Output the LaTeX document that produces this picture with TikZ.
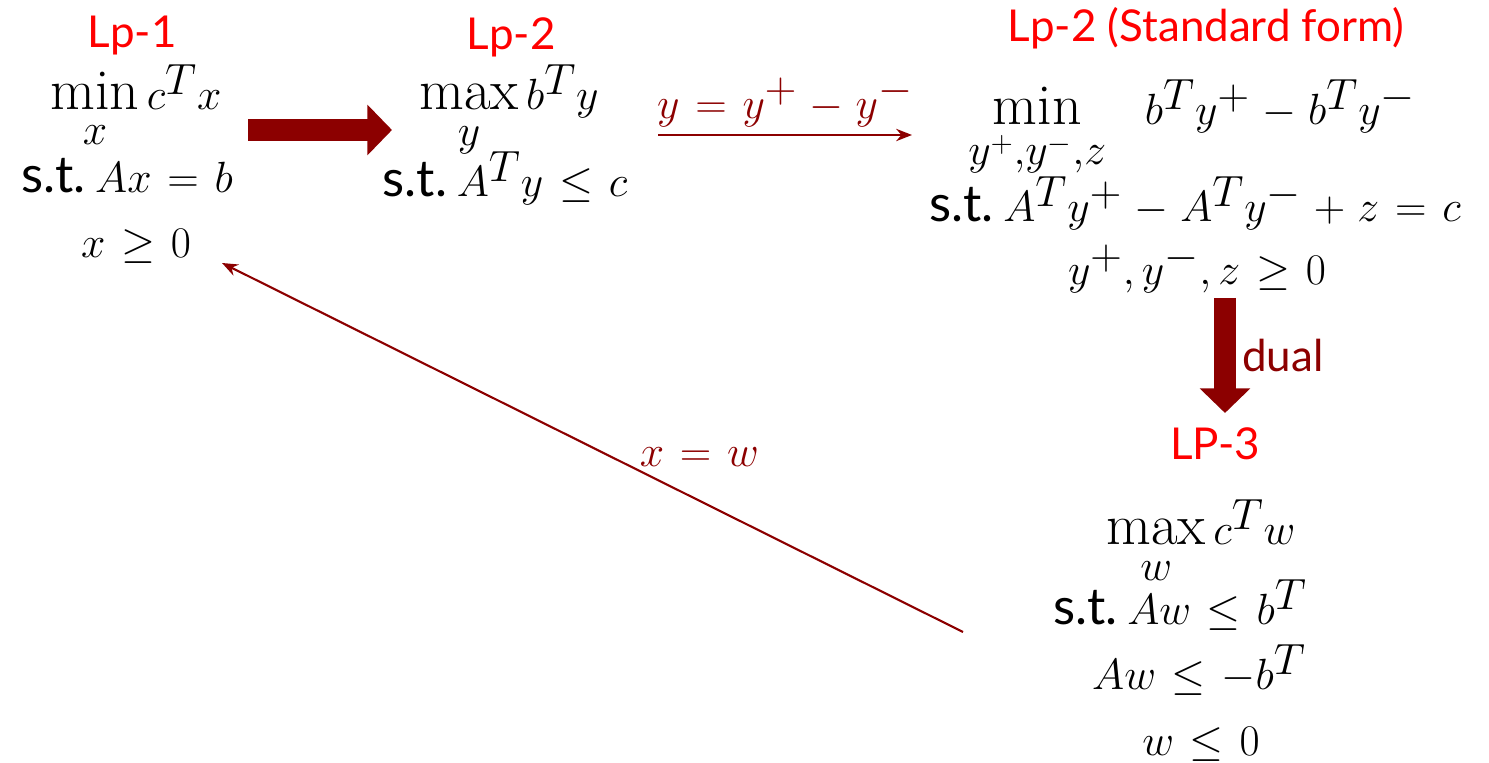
\documentclass[tikz,border=0pt]{standalone}
\usepackage{amsmath,amssymb}
\usepackage{fontspec}
\newfontfamily\gillfont{Lato}
\usetikzlibrary{arrows.meta,positioning}
\definecolor{lpred}{RGB}{255,0,0}
\definecolor{dualred}{RGB}{140,0,0}
\newcommand{\widespacing}{\thickmuskip=6.5mu\relax\medmuskip=5mu\relax}

\begin{document}
\begin{tikzpicture}[
    x=0.02cm, y=-0.02cm,
    title/.style={font=\fontsize{25}{28}\selectfont\gillfont, text=lpred,
                  inner sep=0pt, anchor=base},
    eq/.style={font=\fontsize{33}{36}\selectfont\widespacing,
               inner sep=0pt, anchor=base},
    bigarrow/.style={-{Triangle[length=14pt, width=28pt]}, line width=13pt, dualred},
    thinarrow/.style={-{Stealth[length=9pt, width=7pt]}, line width=1.2pt, dualred},
]
    \useasboundingbox (0,0) rectangle (1489,763);
    \newcommand{\st}{{\gillfont\fontsize{29}{34}\selectfont s.t.}\,}

    % Lp-1
    \node[title] (lpone) at (132,48) {Lp-1};
    \node[eq] (lponeobj) at (136,110) {$\min\limits_{x} c^Tx$};
    \node[eq] (lponecon) at (127,193) {\st$Ax = b$};
    \node[eq] (lponepos) at (136,258) {$x \ge 0$};

    % Lp-2
    \node[title] (lptwo) at (511,50) {Lp-2};
    \node[eq] (lptwoobj) at (509,110) {$\max\limits_{y} b^Ty$};
    \node[eq] (lptwocon) at (505,197) {\st$A^Ty \le c$};

    % Lp-2 (Standard form)
    \node[title] (lpstd) at (1206,42) {Lp-2 (Standard form)};
    \node[eq] (lpstdobj) at (1192,125) {$\min\limits_{y^+,y^-,z}\;\; b^Ty^+ - b^Ty^-$};
    \node[eq] (lpstdcon) at (1195,222) {\st$A^Ty^+ - A^Ty^- + z = c$};
    \node[eq] (lpstdpos) at (1197,285) {$y^+,y^-,z \ge 0$};

    % LP-3
    \node[title] (lpthree) at (1215,460) {LP-3};
    \node[eq] (lpthreeobj) at (1201,545) {$\max\limits_{w} c^Tw$};
    \node[eq] (lpthreeconA) at (1180,625) {\st$Aw \le b^T$};
    \node[eq] (lpthreeconB) at (1199,690) {$Aw \le -b^T$};
    \node[eq] (lpthreepos) at (1201,755) {$w \le 0$};

    % Arrow ends
    \coordinate (toLptwoA) at (248,130);
    \coordinate (toLptwoB) at (392,130);
    \coordinate (toStdA) at (658,135);
    \coordinate (toStdB) at (912,135);
    \coordinate (dualA) at (1225,298);
    \coordinate (dualB) at (1225,413);
    \coordinate (backA) at (963,632);
    \coordinate (backB) at (222,263);

    % Arrows
    \draw[bigarrow] (toLptwoA) -- (toLptwoB);
    \draw[thinarrow] (toStdA) -- (toStdB)
        node[midway, eq, above=4pt, anchor=south, text=dualred] {$y = y^+ - y^-$};
    \draw[bigarrow] (dualA) -- (dualB)
        node[midway, right=0pt, font=\fontsize{25}{28}\selectfont\gillfont, text=dualred] {dual};
    \draw[thinarrow] (backA) -- (backB)
        node[pos=0.44, eq, anchor=south west, inner sep=1pt, text=dualred] {$x = w$};
\end{tikzpicture}
\end{document}
